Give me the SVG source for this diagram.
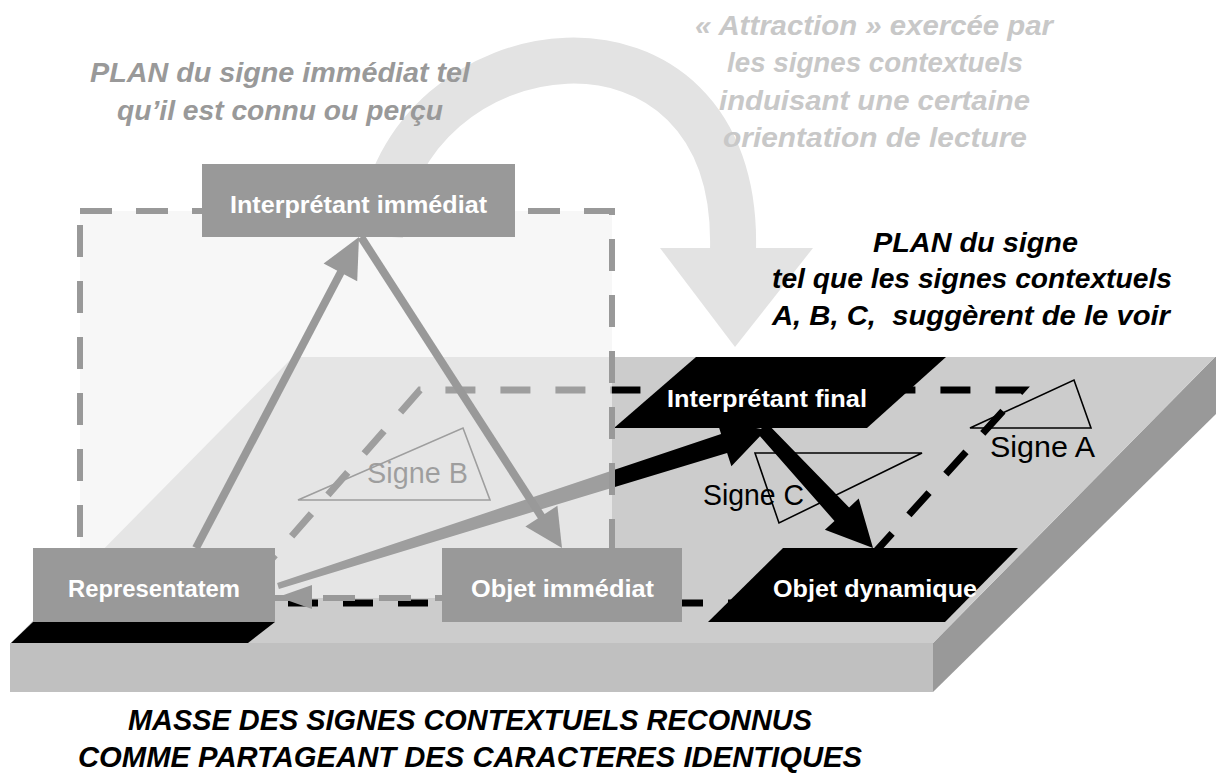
<svg xmlns="http://www.w3.org/2000/svg" width="1216" height="773" viewBox="0 0 1216 773">
<style>
.t{font-family:"Liberation Sans",Arial,sans-serif}
.lbl{font-weight:bold;font-size:23px;fill:#fff}
.sig{font-size:30px;fill:#000}
.ti{font-weight:bold;font-style:italic}
.dash{fill:none;stroke:#000;stroke-width:7;stroke-dasharray:30 25}
.tri{fill:none;stroke:#000;stroke-width:1.6}
.gline{stroke:#999;stroke-width:8;fill:none}
.ghead{fill:#999}
</style>
<rect width="1216" height="773" fill="#fff"/>
<g id="slab">
<rect x="10" y="643" width="923" height="49" fill="#c0c0c0"/>
<polygon points="933,643 1215,357 1216,357 1216,414 933,692" fill="#999"/>
<polygon points="11,643 933,643 1215,357 293,357" fill="#ccc"/>
<polygon points="33,622 275,622 248,643 11,643" fill="#000"/>
</g>
<g id="plan-outline">
<path class="dash" d="M233 603 L829 603 L1022 390 L420 390 Z"/>
</g>
<g id="signe-a">
<polygon class="tri" points="970,428 1074,380 1091,428"/>
<text class="t sig" x="990" y="457" textLength="105" lengthAdjust="spacingAndGlyphs">Signe A</text>
</g>
<g id="signe-b">
<polygon class="tri" points="298,500 463,428 490,500"/>
<text class="t sig" x="367" y="483" textLength="101" lengthAdjust="spacingAndGlyphs">Signe B</text>
</g>
<g id="signe-c">
<polygon class="tri" points="755,453 922,453 779,523"/>
<text class="t sig" x="703" y="505" textLength="101" lengthAdjust="spacingAndGlyphs">Signe C</text>
</g>
<g id="connectors-plan">
<polygon points="277.1,583.1 721.1,433.9 716.8,420.5 766,430 731.4,466.3 727.1,452.9 278.9,588.9" fill="#000"/>
<polygon points="767.1,423.2 849.1,507.4 858.7,498.6 873,548 824.9,529.8 834.5,521 756.9,432.8" fill="#000"/>
</g>
<g id="interpretant-final">
<polygon points="614,428 867,428 946,357 696,357" fill="#000"/>
<text class="t lbl" x="667" y="407" textLength="200" lengthAdjust="spacingAndGlyphs">Interprétant final</text>
</g>
<g id="objet-dynamique">
<polygon points="708,622 945,622 1018,548 783,548" fill="#000"/>
<text class="t lbl" x="773" y="597" textLength="204" lengthAdjust="spacingAndGlyphs">Objet dynamique</text>
</g>
<g id="plan-immediat">
<rect x="80" y="211" width="532" height="387" fill="#f3f3f3" fill-opacity="0.65"/>
<rect x="80" y="211" width="532" height="387" fill="none" stroke="#999" stroke-width="6" stroke-dasharray="32 24"/>
</g>
<g id="attraction-arrow">
<path d="M380 236 C400 20 740 -20 733 250" fill="none" stroke="#e3e3e3" stroke-width="46"/>
<polygon points="660,248 813,248 735,347" fill="#e3e3e3"/>
</g>
<g id="connectors-immediat">
<line class="gline" x1="196" y1="548" x2="342" y2="270"/>
<polygon class="ghead" points="359,237 357.2,281.2 323.6,263.6"/>
<line class="gline" x1="361" y1="237" x2="543" y2="519"/>
<polygon class="ghead" points="562,548 525.4,526.4 557.4,505.8"/>
<polygon class="ghead" points="278,597 312,585 312,609"/>
</g>
<g id="interpretant-immediat">
<rect x="202" y="164" width="313" height="73" fill="#999"/>
<text class="t lbl" x="230" y="213" textLength="257" lengthAdjust="spacingAndGlyphs">Interprétant immédiat</text>
</g>
<g id="representatem">
<rect x="33" y="548" width="242" height="74" fill="#999"/>
<text class="t lbl" x="68" y="597" textLength="172" lengthAdjust="spacingAndGlyphs">Representatem</text>
</g>
<g id="objet-immediat">
<rect x="442" y="548" width="240" height="74" fill="#999"/>
<text class="t lbl" x="471" y="597" textLength="183" lengthAdjust="spacingAndGlyphs">Objet immédiat</text>
</g>
<g id="titles">
<g class="t ti" font-size="28" fill="#999">
<text x="90" y="82" textLength="380" lengthAdjust="spacingAndGlyphs">PLAN du signe immédiat tel</text>
<text x="117" y="120" textLength="326" lengthAdjust="spacingAndGlyphs">qu’il est connu ou perçu</text>
</g>
<g class="t ti" font-size="27" fill="#c8c8c8">
<text x="695" y="35" textLength="358" lengthAdjust="spacingAndGlyphs">« Attraction » exercée par</text>
<text x="727" y="72" textLength="296" lengthAdjust="spacingAndGlyphs">les signes contextuels</text>
<text x="719" y="110" textLength="311" lengthAdjust="spacingAndGlyphs">induisant une certaine</text>
<text x="723" y="147" textLength="304" lengthAdjust="spacingAndGlyphs">orientation de lecture</text>
</g>
<g class="t ti" font-size="28" fill="#000">
<text x="873" y="252" textLength="205" lengthAdjust="spacingAndGlyphs">PLAN du signe</text>
<text x="772" y="288" textLength="400" lengthAdjust="spacingAndGlyphs">tel que les signes contextuels</text>
<text x="772" y="325" textLength="398" lengthAdjust="spacingAndGlyphs" style="white-space:pre">A, B, C,  suggèrent de le voir</text>
</g>
<g class="t ti" font-size="29" fill="#000">
<text x="128" y="730" textLength="684" lengthAdjust="spacingAndGlyphs">MASSE DES SIGNES CONTEXTUELS RECONNUS</text>
<text x="78" y="767" textLength="784" lengthAdjust="spacingAndGlyphs">COMME PARTAGEANT DES CARACTERES IDENTIQUES</text>
</g>
</g>
</svg>
